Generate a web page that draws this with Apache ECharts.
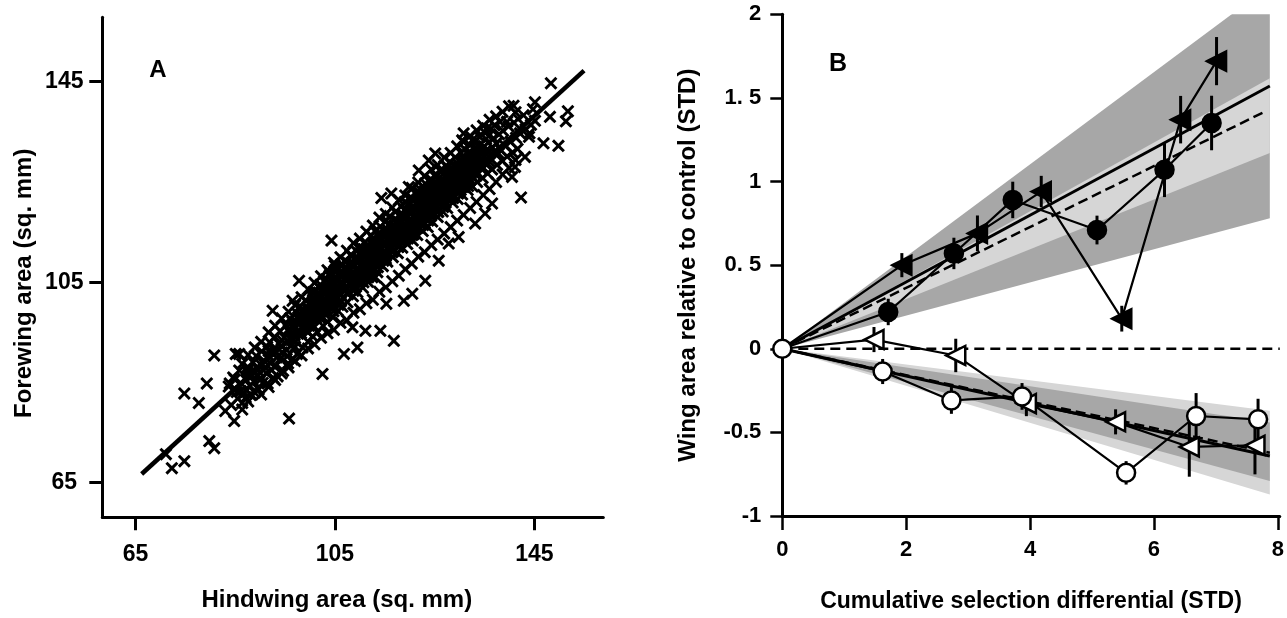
<!DOCTYPE html>
<html><head><meta charset="utf-8">
<script src="https://cdn.jsdelivr.net/npm/echarts@6/dist/echarts.min.js"></script>
<style>html,body{margin:0;padding:0;background:#fff}#c{width:1287px;height:618px}</style>
</head><body><div id="c"></div><script>
// ---------- Panel A data: [hindwing, forewing] ----------
const scatterOutliers = [
[71.1,70.7],[72.3,67.9],[74.8,69.3],[74.8,82.8],[77.7,80.9],[79.3,84.8],[80.8,90.4],[79.8,73.3],[80.8,71.9],
[83.9,84.8],[84.8,77.3],[83.0,79.3],[85.1,90.7],[85.8,90.7],[95.8,77.8],[87.1,82.0],[86.1,83.3],[88.1,82.7],
[148.3,144.7],[140.8,140.2],[145.1,140.9],[151.7,139.1],[151.3,137.1],[148.1,138.0],[144.0,134.7],[146.8,132.7],
[149.8,132.2],[142.3,121.9],[143.1,130.0],[141.1,128.0],[135.5,135.7],[130.8,134.7],[132.5,133.3],[139.5,137.0],
[140.5,126.0],[137.8,130.7],
[104.3,113.3],[105.0,108.3],[97.8,105.3],[96.5,101.3],[92.5,99.3],[114.3,121.8],[116.3,122.7],[114.1,95.3],
[116.8,93.3],[118.8,101.3],[120.5,102.7],[123.1,105.3],[125.8,109.3],[127.8,112.7],[129.8,114.0],[109.5,92.0],
[106.8,90.7],[102.5,86.7],[115.3,100.7],[111.1,95.3],[108.5,96.0],[113.1,106.0],[133.1,116.7],[136.5,120.7],
[135.1,118.7],[123.8,129.3],[121.8,127.3],[119.8,124.0],[125.1,130.7],[130.5,133.3]
];
const scatterCoreLow = [
[84.2,80.5],[83.7,84.2],[84.6,86.0],[85.3,83.1],[84.9,85.6],[85.5,81.8],[86.1,84.9],[86.6,82.7],[85.8,87.4],[86.4,80.9],
[87.2,85.5],[86.8,83.0],[87.5,88.1],[88.3,86.2],[87.9,84.4],[88.6,89.0],[88.1,82.5],[87.7,87.6],
[89.4,87.9],[88.8,85.1],[89.2,90.3],[89.7,83.6],[90.1,88.6],[89.6,86.4],[90.5,84.9],[90.3,91.2],[89.9,87.0],
[91.2,86.9],[90.7,89.4],[91.5,84.8],[91.0,88.0],[91.4,92.1],[92.3,87.5],[91.8,90.2],[92.6,85.9],[92.1,88.8],[91.9,93.0],
[93.1,88.4],[92.7,91.6],[93.5,86.2],[93.3,90.0],[92.9,94.1],[94.2,89.9],[93.8,92.7],[94.6,87.3],[94.0,95.2],[94.4,91.0],
[95.3,91.5],[94.9,93.9],[95.6,88.8],[95.1,96.4],[95.4,90.2],[96.2,92.3],[95.8,95.1],[96.5,89.6],[96.0,97.8],[96.3,93.6],
[97.1,93.2],[96.7,96.0],[97.4,90.7],[97.3,98.9],[96.9,94.4],[98.2,94.8],[97.8,97.5],[98.5,92.0],[98.0,100.2],[98.4,95.9],
[99.3,95.3],[98.9,98.6],[99.6,93.1],[99.1,101.4],[99.4,96.7]
];
const scatterCoreMid = [
[100.1,96.5],[99.7,99.8],[100.5,94.2],[100.3,102.3],[99.9,97.6],[100.6,100.9],
[101.2,97.9],[100.8,100.4],[101.5,95.0],[101.0,103.2],[101.4,99.1],[100.9,101.8],
[102.3,98.2],[101.9,101.6],[102.6,96.3],[102.1,104.5],[102.4,100.0],[101.8,102.9],
[103.1,99.6],[102.7,102.7],[103.5,97.1],[103.3,105.6],[102.9,101.0],[103.6,103.8],[103.2,98.4],
[104.2,100.3],[103.8,103.5],[104.6,98.0],[104.0,106.8],[104.4,102.0],[103.9,104.9],[104.7,99.2],
[105.3,101.7],[104.9,104.6],[105.6,99.3],[105.1,107.5],[105.4,103.1],[104.8,105.8],[105.7,100.5],
[106.1,102.4],[105.7,105.5],[106.5,100.1],[106.3,108.6],[105.9,104.0],[106.6,106.9],[106.2,101.2],
[107.2,103.8],[106.8,106.7],[107.5,101.0],[107.0,109.3],[107.4,105.2],[106.9,107.8],[107.6,102.6],
[108.3,104.5],[107.9,107.3],[108.6,102.2],[108.1,110.4],[108.4,106.1],[107.8,108.7],[108.7,103.3],
[109.1,105.2],[108.7,108.4],[109.5,103.0],[109.3,111.2],[108.9,106.8],[109.6,109.6],[109.2,104.1],
[110.2,106.6],[109.8,109.5],[110.6,103.9],[110.0,112.1],[110.4,107.9],[109.9,110.8],[110.7,105.0],
[111.3,107.3],[110.9,110.2],[111.6,105.1],[111.1,113.0],[111.4,108.7],[110.8,111.6],[111.7,106.0],
[112.1,108.5],[111.7,111.4],[112.5,106.0],[112.3,114.3],[111.9,109.8],[112.6,112.7],[112.2,107.2],
[113.2,109.1],[112.8,112.3],[113.5,107.0],[113.0,115.2],[113.4,110.6],[112.9,113.5],[113.6,108.0],
[114.3,110.4],[113.9,113.1],[114.6,108.2],[114.1,116.1],[114.4,111.7],[113.8,114.6],[114.7,109.3],
[115.1,111.0],[114.7,114.2],[115.5,109.1],[115.3,117.3],[114.9,112.6],[115.6,115.4],[115.2,110.2]
];
const scatterCoreHigh = [
[116.2,112.3],[115.8,115.0],[116.6,110.0],[116.0,118.2],[116.4,113.5],[115.9,116.6],[116.7,111.2],
[117.3,113.1],[116.9,116.3],[117.6,110.8],[117.1,119.0],[117.4,114.5],[116.8,117.4],[117.7,112.0],
[118.1,114.0],[117.7,117.1],[118.5,111.9],[118.3,120.1],[117.9,115.5],[118.6,118.5],[118.2,113.0],
[119.2,114.8],[118.8,118.0],[119.5,112.6],[119.0,121.0],[119.4,116.3],[118.9,119.4],[119.6,113.7],
[120.3,115.6],[119.9,118.8],[120.6,113.3],[120.1,121.9],[120.4,117.2],[119.8,120.3],[120.7,114.5],
[121.1,116.9],[120.7,119.7],[121.5,114.4],[121.3,122.8],[120.9,118.1],[121.6,121.2],[121.2,115.8],
[122.2,117.5],[121.8,120.8],[122.6,115.2],[122.0,123.6],[122.4,119.0],[121.9,122.1],[122.7,116.4],
[123.3,118.6],[122.9,121.5],[123.6,116.0],[123.1,124.7],[123.4,119.9],[122.8,123.0],[123.7,117.3],
[124.1,119.3],[123.7,122.6],[124.5,117.1],[124.3,125.5],[123.9,120.8],[124.6,123.8],[124.2,118.2],
[125.2,120.4],[124.8,123.3],[125.6,118.0],[125.0,126.4],[125.4,121.7],[124.9,124.9],[125.7,119.0],
[126.3,121.2],[125.9,124.4],[126.6,119.1],[126.1,127.3],[126.4,122.6],[125.8,125.7],[126.7,120.0],
[127.1,122.0],[126.7,125.1],[127.5,119.8],[127.3,128.1],[126.9,123.5],[127.6,126.5],[127.2,120.9],
[128.2,123.1],[127.8,126.2],[128.6,120.9],[128.0,129.0],[128.4,124.4],[127.9,127.4],[128.7,121.8],
[129.3,123.9],[128.9,127.0],[129.6,121.6],[129.1,129.9],[129.4,125.3],[128.8,128.3],[129.7,122.7],
[130.1,124.8],[129.7,127.9],[130.5,122.5],[130.3,130.8],[129.9,126.2],[130.6,129.1],[130.2,123.4],
[131.2,125.5],[130.8,128.7],[131.6,123.4],[131.0,131.6],[131.4,127.0],[130.9,130.0],[131.7,124.2],
[132.3,126.4],[131.9,129.6],[132.6,124.1],[132.1,132.3],[132.4,127.9],[131.8,130.9],
[133.1,127.3],[132.7,130.4],[133.5,125.0],[133.3,133.2],[132.9,128.8],[133.6,131.5],
[134.2,128.0],[133.8,131.3],[134.6,125.8],[134.0,134.0],[134.4,129.6],
[135.3,128.9],[134.9,132.1],[135.6,126.7],[135.1,134.8],[135.4,130.5],
[136.1,129.7],[135.7,132.8],[136.5,127.5],[136.3,135.6],[135.9,131.2],
[137.2,130.6],[136.8,133.7],[137.5,128.4],[137.0,136.3],[138.3,131.3],[137.9,134.5],[138.6,129.2],[138.1,137.0],
[139.1,132.2],[138.7,135.2],[139.5,130.1],[140.2,133.0],[139.8,136.1],[140.6,130.9],
[141.3,133.8],[140.9,136.8],[141.6,131.6],[142.1,134.7],[141.7,137.6],[143.2,135.5],[142.8,138.3],
[144.3,136.4],[143.9,134.0],[145.1,137.2],[144.7,139.5]
];
const scatterCoreWide = [
[86.4,79.6],[86.4,88.7],[87.6,90.5],[87.6,81.2],[87.6,86.9],[88.9,92.0],[88.9,83.0],
[90.2,82.6],[90.2,93.1],[90.2,85.7],[91.7,95.0],[91.7,84.1],[91.7,91.3],[93.0,96.3],[93.0,85.5],[93.0,88.2],
[94.3,97.8],[94.3,86.8],[94.3,93.5],[95.7,99.1],[95.7,88.0],[95.7,95.6],[97.0,100.4],[97.0,89.3],[97.0,92.1],
[98.3,102.0],[98.3,90.4],[98.3,98.3],[99.6,103.6],[99.6,91.8],[99.6,95.0],[99.6,99.4],
[100.9,104.9],[100.9,92.6],[100.9,96.1],[100.9,101.0],[102.2,106.2],[102.2,93.9],[102.2,97.7],[102.2,102.3],
[103.5,107.4],[103.5,94.8],[103.5,99.1],[103.5,103.9],[104.8,108.9],[104.8,95.5],[104.8,100.2],[104.8,105.0],
[106.1,110.0],[106.1,96.9],[106.1,101.4],[106.1,106.1],[107.4,111.3],[107.4,97.4],[107.4,102.8],[107.4,107.5],
[108.7,112.8],[108.7,98.9],[108.7,103.7],[108.7,108.6],[110.0,113.7],[110.0,99.6],[110.0,105.3],[110.0,109.2],
[111.3,115.1],[111.3,100.8],[111.3,106.2],[111.3,110.9],[112.6,116.3],[112.6,101.5],[112.6,107.4],[112.6,111.8],
[113.9,117.9],[113.9,103.1],[113.9,108.8],[113.9,113.2],[115.2,118.6],[115.2,104.0],[115.2,109.7],[115.2,114.4],
[116.5,119.9],[116.5,105.2],[116.5,111.0],[116.5,115.3],[117.8,121.4],[117.8,106.3],[117.8,112.1],[117.8,116.8],
[119.1,122.3],[119.1,107.6],[119.1,113.6],[119.1,117.9],[120.4,123.8],[120.4,108.7],[120.4,114.4],[120.4,119.2],
[121.7,124.9],[121.7,110.1],[121.7,115.9],[121.7,120.3],[123.0,126.2],[123.0,111.0],[123.0,116.8],[123.0,121.6],
[124.3,127.5],[124.3,112.4],[124.3,118.3],[124.3,122.7],[125.6,128.4],[125.6,113.5],[125.6,119.1],[125.6,124.0],
[126.9,129.9],[126.9,114.7],[126.9,120.5],[126.9,125.1],[128.2,130.8],[128.2,116.0],[128.2,121.7],[128.2,126.4],
[129.5,132.1],[129.5,117.3],[129.5,122.9],[129.5,127.6],[130.8,133.0],[130.8,118.4],[130.8,124.0],[130.8,128.9],
[132.1,134.2],[132.1,119.8],[132.1,125.4],[132.1,130.1],[133.4,135.3],[133.4,121.0],[133.4,126.3],
[134.7,136.2],[134.7,122.4],[134.7,127.9],[136.0,137.4],[136.0,123.6],[136.0,129.0],
[137.3,138.1],[137.3,125.0],[137.3,132.7],[138.6,139.0],[138.6,126.5],[139.9,140.1],[139.9,127.8],[141.2,138.9],[141.2,129.4]
];
const scatterCoreDense = [
[96.5,95.0],[96.5,97.1],[96.5,93.4],[97.6,96.8],[97.6,98.0],[97.6,94.7],[98.7,97.3],[98.7,99.5],[98.7,95.9],
[99.8,98.9],[99.8,100.7],[99.8,96.3],[100.6,99.6],[100.6,101.5],[100.6,97.7],[100.6,103.0],
[101.7,100.8],[101.7,102.9],[101.7,98.6],[101.7,104.1],[102.8,101.5],[102.8,103.6],[102.8,99.8],[102.8,105.2],
[103.9,102.6],[103.9,104.8],[103.9,100.4],[103.9,106.3],[105.0,103.4],[105.0,105.9],[105.0,101.7],[105.0,107.0],
[106.2,104.9],[106.2,106.6],[106.2,102.5],[106.2,108.2],[107.3,105.7],[107.3,107.8],[107.3,103.6],[107.3,109.1],
[108.4,106.8],[108.4,108.9],[108.4,104.7],[108.4,110.3],[109.5,107.7],[109.5,109.8],[109.5,105.4],
[110.6,108.9],[110.6,110.9],[110.6,106.6],[111.8,109.6],[111.8,111.7],[111.8,107.5],
[112.9,110.8],[112.9,112.9],[112.9,108.9],[114.0,111.9],[114.0,113.8],[114.0,109.8],
[115.1,112.7],[115.1,114.9],[115.1,110.6],[116.2,113.8],[116.2,115.9],[116.2,111.7],
[117.4,114.9],[117.4,117.0],[117.4,112.8],[118.5,116.2],[118.5,118.1],[118.5,113.6],
[119.6,117.0],[119.6,119.2],[119.6,114.9],[119.6,120.6],[120.7,118.1],[120.7,120.0],[120.7,115.8],[120.7,121.5],
[121.9,119.3],[121.9,121.4],[121.9,116.7],[121.9,122.9],[123.0,120.2],[123.0,122.3],[123.0,117.9],[123.0,123.8],
[124.1,121.4],[124.1,123.5],[124.1,118.8],[124.1,124.9],[125.2,122.3],[125.2,124.6],[125.2,119.7],[125.2,126.0],
[126.3,123.1],[126.3,125.4],[126.3,120.9],[126.3,127.0],[127.5,124.5],[127.5,126.6],[127.5,121.8],[127.5,128.1],
[128.6,125.4],[128.6,127.6],[128.6,122.6],[129.7,126.2],[129.7,128.5],[129.7,123.9],
[130.8,127.5],[130.8,129.6],[130.8,124.8],[131.9,128.3],[131.9,130.4],[131.9,125.6],
[133.1,129.4],[133.1,131.7],[133.1,126.9],[134.2,130.6],[134.2,132.5],[134.2,127.8],[135.3,131.3],[135.3,133.6],[135.3,128.5]
];
const scatterCoreFill = [
[108.9,105.9],[109.8,107.1],[110.3,108.3],[111.0,106.9],[111.5,109.4],[112.4,110.1],[112.0,108.0],[113.3,111.6],
[113.7,109.2],[114.5,112.8],[114.9,110.8],[115.7,113.2],[115.4,111.6],[116.8,114.7],[116.3,112.9],[117.5,115.8],
[117.1,113.9],[118.4,116.9],[118.0,114.6],[119.3,117.9],[119.0,115.4],[120.2,118.6],[120.0,116.6],[121.0,119.9],
[121.4,117.6],[122.3,120.5],[122.1,118.4],[123.2,121.1],[123.5,119.4],[124.4,122.0],[124.0,120.1],[125.1,123.0],
[125.5,120.9],[126.0,123.6],[126.5,121.9],[127.4,124.9],[127.0,122.8],[128.3,125.8],[128.1,123.7],[129.2,126.6],
[129.0,124.6],[130.0,127.2],[130.4,125.7],[131.1,128.1],[131.5,126.1],[132.2,128.9],[132.5,127.1],[133.2,130.0],
[133.8,128.4],[100.2,98.1],[101.1,99.5],[101.6,100.2],[102.5,101.3],[103.0,100.6],[103.7,102.1],[104.3,103.5],
[104.6,101.3],[105.5,104.3],[105.9,102.9],[106.4,105.1],[106.9,103.9],[107.7,106.3],[108.0,104.8]
];
const fitA = [[66.24, 66.74], [154.94, 147.2]];
const ticksA = [65, 105, 145];

// ---------- Panel B data ----------
const upCircleX   = [0, 1.71, 2.77, 3.72, 5.08, 6.17, 6.93];
const upCircleY   = [0, 0.22, 0.57, 0.89, 0.71, 1.07, 1.35];
const upCircleErr = [0, 0.079, 0.094, 0.109, 0.086, 0.163, 0.163];
const upTriX   = [0, 1.93, 3.15, 4.18, 5.48, 6.43, 7.01];
const upTriY   = [0, 0.50, 0.69, 0.94, 0.18, 1.37, 1.72];
const upTriErr = [0, 0.072, 0.107, 0.094, 0.077, 0.142, 0.144];
const downCircleX   = [0, 1.62, 2.73, 3.87, 5.55, 6.68, 7.68];
const downCircleY   = [0, -0.136, -0.309, -0.285, -0.742, -0.402, -0.422];
const downCircleErr = [0, 0.075, 0.08, 0.08, 0.07, 0.137, 0.123];
const downTriX   = [0, 1.48, 2.80, 3.94, 5.38, 6.57, 7.63];
const downTriY   = [0, 0.055, -0.04, -0.328, -0.437, -0.587, -0.577];
const downTriErr = [0, 0.075, 0.1, 0.075, 0.075, 0.178, 0.174];

const bandX = [0, 7.87];
const upOuterLow = [0, 0.78],   upOuterHigh = [0, 2.17];
const upInnerLow = [0, 1.17],   upInnerHigh = [0, 1.617];
const downOuterLow = [0, -0.872], downOuterHigh = [0, -0.371];
const downInnerLow = [0, -0.791], downInnerHigh = [0, -0.441];

const upFitSolid = [[0, 0], [7.87, 1.571]];
const upFitDash  = [[0, 0], [7.80, 1.42]];
const downFitSolid = [[0, 0], [7.87, -0.641]];
const downFitDash  = [[0, 0], [7.87, -0.622]];
const zeroLine = [[0, 0], [8.03, 0]];

const ticksBx = [0, 2, 4, 6, 8];
const ticksBy = [-1, -0.5, 0, 0.5, 1, 1.5, 2];
const tickLabelsBy = ['-1', '-0.5', '0', '0. 5', '1', '1. 5', '2'];

// ---------- helpers ----------
const FONT = 'Liberation Sans, Arial, Helvetica, sans-serif';
const zip = (xs, ys) => xs.map((x, i) => [x, ys[i]]);
const errData = (xs, ys, es) => xs.map((x, i) => [x, ys[i] - es[i], ys[i] + es[i]]).filter((d, i) => es[i] > 0);
const XSYM = 'path://M0,1.6L1.6,0L5,3.4L8.4,0L10,1.6L6.6,5L10,8.4L8.4,10L5,6.6L1.6,10L0,8.4L3.4,5Z';

const bands = [
  {low: upOuterLow, high: upOuterHigh, color: '#a7a7a7'},
  {low: upInnerLow, high: upInnerHigh, color: '#d6d6d6'},
  {low: downOuterLow, high: downOuterHigh, color: '#d6d6d6'},
  {low: downInnerLow, high: downInnerHigh, color: '#a7a7a7'}
];

const axisLineStyle = {show: true, onZero: false, lineStyle: {color: '#000', width: 3}};
const labelStyle = {color: '#000', fontFamily: FONT, fontWeight: 'bold'};
const nameStyle = (s, pad) => ({color: '#000', fontFamily: FONT, fontWeight: 'bold', fontSize: s, padding: pad});

const chart = echarts.init(document.getElementById('c'), null, {renderer: 'canvas'});

function lineSeries(data, width, type, z) {
  return {type: 'line', xAxisIndex: 1, yAxisIndex: 1, data: data, showSymbol: false, symbol: 'none',
    lineStyle: {color: '#000', width: width, type: type}, z: z, silent: true, animation: false};
}
function markerSeries(data, symbol, rotate, fill, z) {
  return {type: 'scatter', xAxisIndex: 1, yAxisIndex: 1, data: data, symbol: symbol, symbolRotate: rotate,
    symbolSize: symbol === 'circle' ? 18 : 19,
    itemStyle: {color: fill, borderColor: '#000', borderWidth: 2.5, opacity: 1}, z: z, animation: false};
}
function errSeries(data) {
  return {type: 'custom', xAxisIndex: 1, yAxisIndex: 1, data: data, z: 4, animation: false,
    renderItem: function (params, api) {
      const p1 = api.coord([api.value(0), api.value(1)]);
      const p2 = api.coord([api.value(0), api.value(2)]);
      return {type: 'line', shape: {x1: p1[0], y1: p1[1], x2: p2[0], y2: p2[1]},
        style: {stroke: '#000', lineWidth: 3}};
    }};
}

const option = {
  animation: false,
  backgroundColor: '#fff',
  grid: [
    {left: 102.3, top: 17.3, width: 501, height: 500},
    {left: 782.3, top: 14.3, width: 504.7, height: 503.4}
  ],
  xAxis: [
    {gridIndex: 0, type: 'value', min: 58.35, max: 158.8, axisLine: axisLineStyle,
     axisTick: {show: true, customValues: ticksA, length: 13, lineStyle: {color: '#000', width: 3}},
     axisLabel: Object.assign({customValues: ticksA, fontSize: 23, margin: 26}, labelStyle),
     splitLine: {show: false},
     name: 'Hindwing area (sq. mm)', nameLocation: 'middle', nameGap: 71, nameTextStyle: nameStyle(24, [0, 32, 0, 0])},
    {gridIndex: 1, type: 'value', min: 0, max: 8.03, axisLine: axisLineStyle,
     axisTick: {show: true, customValues: ticksBx, length: 14, lineStyle: {color: '#000', width: 2.5}},
     axisLabel: Object.assign({customValues: ticksBx, fontSize: 22, margin: 23}, labelStyle),
     splitLine: {show: false},
     name: 'Cumulative selection differential (STD)', nameLocation: 'middle', nameGap: 74, nameTextStyle: nameStyle(23, 0)}
  ],
  yAxis: [
    {gridIndex: 0, type: 'value', min: 58.1, max: 157.85, axisLine: axisLineStyle,
     axisTick: {show: true, customValues: ticksA, length: 13, lineStyle: {color: '#000', width: 3}},
     axisLabel: Object.assign({customValues: ticksA, fontSize: 23, margin: 38, align: 'center'}, labelStyle),
     splitLine: {show: false},
     name: 'Forewing area (sq. mm)', nameLocation: 'middle', nameGap: 66, nameTextStyle: nameStyle(24, [0, 32, 0, 0])},
    {gridIndex: 1, type: 'value', min: -1, max: 2, axisLine: axisLineStyle,
     axisTick: {show: true, customValues: ticksBy, length: 12, lineStyle: {color: '#000', width: 2.5}},
     axisLabel: Object.assign({customValues: ticksBy, fontSize: 22, margin: 21,
       formatter: function (v) { const i = ticksBy.indexOf(v); return i >= 0 ? tickLabelsBy[i] : ''; }}, labelStyle),
     splitLine: {show: false},
     name: 'Wing area relative to control (STD)', nameLocation: 'middle', nameGap: 82, nameTextStyle: nameStyle(24, 0)}
  ],
  graphic: [
    {type: 'text', x: 158, y: 70, style: {text: 'A', font: 'bold 24px ' + FONT, fill: '#000', align: 'center', verticalAlign: 'middle'}},
    {type: 'text', x: 838, y: 64, style: {text: 'B', font: 'bold 25px ' + FONT, fill: '#000', align: 'center', verticalAlign: 'middle'}}
  ],
  series: [
    {type: 'scatter', xAxisIndex: 0, yAxisIndex: 0,
     data: scatterOutliers.concat(scatterCoreLow, scatterCoreMid, scatterCoreHigh, scatterCoreWide, scatterCoreDense, scatterCoreFill),
     symbol: XSYM, symbolSize: 13, itemStyle: {color: '#000', opacity: 1}, z: 3, animation: false},
    {type: 'line', xAxisIndex: 0, yAxisIndex: 0, data: fitA, showSymbol: false, symbol: 'none',
     lineStyle: {color: '#000', width: 4.5}, z: 4, animation: false},
    {type: 'custom', xAxisIndex: 1, yAxisIndex: 1, data: bands.map((b, i) => [i]), clip: true, z: 1, silent: true,
     renderItem: function (params, api) {
       const b = bands[params.dataIndex];
       const pts = [];
       bandX.forEach((x, i) => pts.push(api.coord([x, b.high[i]])));
       for (let i = bandX.length - 1; i >= 0; i--) pts.push(api.coord([bandX[i], b.low[i]]));
       return {type: 'polygon', shape: {points: pts}, style: {fill: b.color}};
     }},
    lineSeries(upFitSolid, 3, 'solid', 2),
    lineSeries(upFitDash, 2.5, [10, 5], 2),
    lineSeries(downFitSolid, 3, 'solid', 2),
    lineSeries(downFitDash, 2.5, [10, 5], 2),
    lineSeries(zeroLine, 2.4, [10, 6], 2),
    lineSeries(zip(upCircleX, upCircleY), 2.2, 'solid', 3),
    lineSeries(zip(upTriX, upTriY), 2.2, 'solid', 3),
    lineSeries(zip(downCircleX, downCircleY), 2.2, 'solid', 3),
    lineSeries(zip(downTriX, downTriY), 2.2, 'solid', 3),
    errSeries(errData(upCircleX, upCircleY, upCircleErr)),
    errSeries(errData(upTriX, upTriY, upTriErr)),
    errSeries(errData(downCircleX, downCircleY, downCircleErr)),
    errSeries(errData(downTriX, downTriY, downTriErr)),
    markerSeries(zip(upCircleX, upCircleY).slice(1), 'circle', 0, '#000', 5),
    markerSeries(zip(upTriX, upTriY).slice(1), 'triangle', 90, '#000', 5),
    markerSeries(zip(downTriX, downTriY).slice(1), 'triangle', 90, '#fff', 5),
    markerSeries(zip(downCircleX, downCircleY), 'circle', 0, '#fff', 6)
  ]
};
chart.setOption(option);
</script></body></html>
